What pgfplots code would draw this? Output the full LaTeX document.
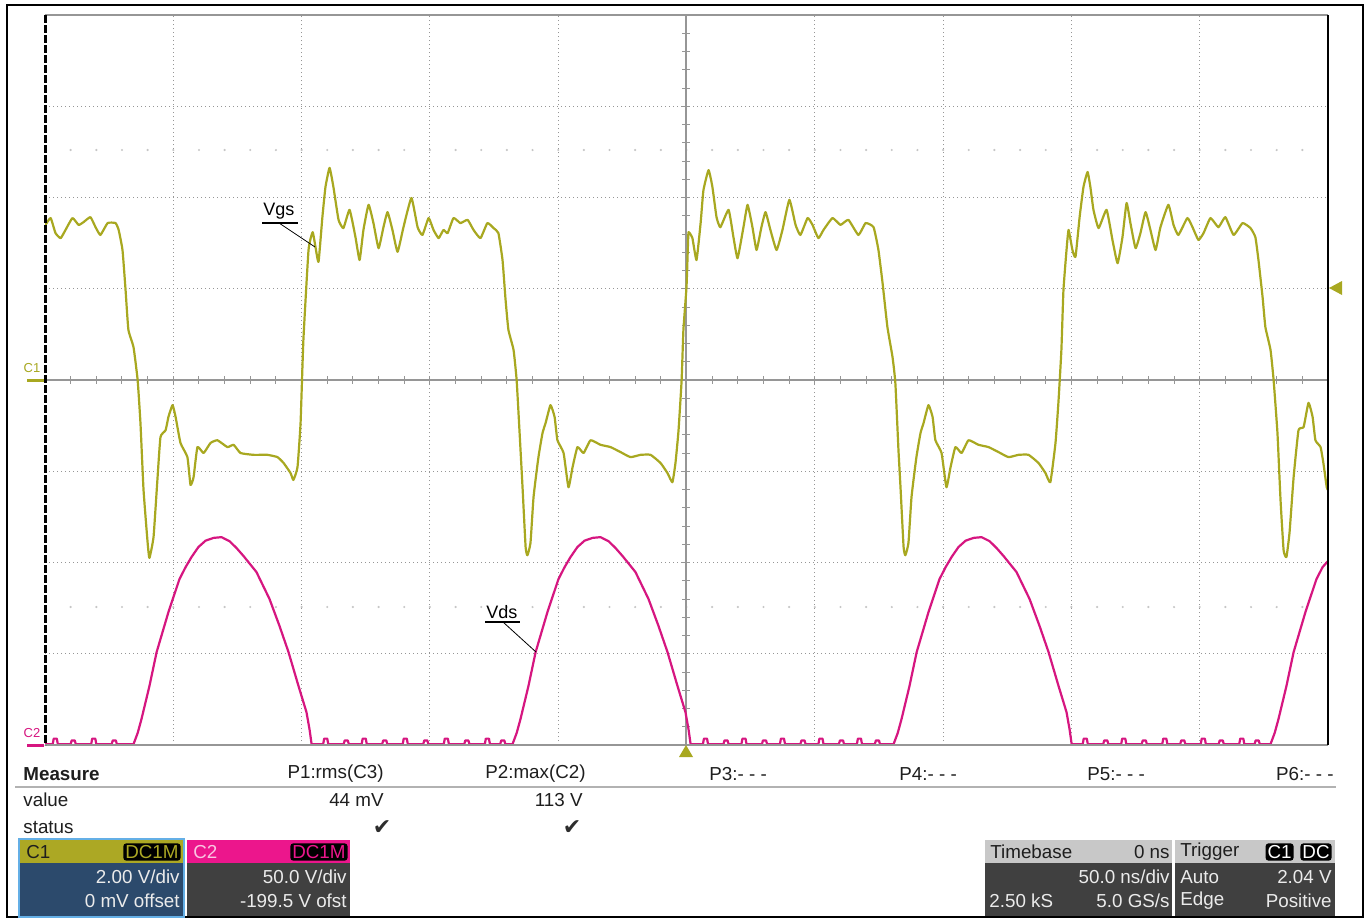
\documentclass[border=0pt]{standalone}
\usepackage{pgfplots}
\pgfplotsset{compat=1.18}
\usepackage{pgfplotstable}
\usepackage{fontspec}
\setmainfont{Liberation Sans}
\newfontfamily\dejavu{DejaVu Sans}
\definecolor{olivetrace}{RGB}{168,168,32}
\definecolor{magtrace}{RGB}{214,22,128}
\definecolor{c1head}{RGB}{172,168,36}
\definecolor{c2head}{RGB}{236,22,140}
\definecolor{c1body}{RGB}{44,74,108}
\definecolor{darkbody}{RGB}{64,64,64}
\definecolor{headgray}{RGB}{200,200,200}
\definecolor{gridgray}{RGB}{150,150,150}
\definecolor{bluebord}{RGB}{100,175,230}
\definecolor{txt}{RGB}{30,30,30}

\pgfplotstableread{
t v
-249.8 3.40
-247.8 3.55
-245.9 3.22
-243.9 3.11
-242.0 3.29
-239.3 3.55
-236.9 3.40
-235.0 3.46
-232.3 3.57
-230.3 3.35
-228.4 3.18
-225.6 3.44
-222.5 3.44
-221.3 3.29
-219.8 2.85
-218.6 1.97
-217.5 1.10
-215.5 0.72
-213.9 0.00
-212.8 -0.94
-211.6 -2.41
-210.0 -3.57
-209.3 -3.90
-207.7 -3.44
-206.2 -2.19
-205.0 -1.25
-203.0 -1.10
-201.9 -0.81
-200.3 -0.55
-199.1 -0.81
-197.2 -1.38
-194.5 -1.69
-193.3 -2.30
-192.1 -2.13
-190.6 -1.47
-188.2 -1.60
-185.5 -1.38
-182.8 -1.32
-178.9 -1.47
-176.5 -1.42
-173.8 -1.60
-168.7 -1.64
-163.3 -1.64
-159.4 -1.69
-157.0 -1.82
-154.3 -2.04
-153.2 -2.19
-151.6 -1.91
-150.4 -0.94
-149.3 0.88
-147.3 2.85
-145.7 3.24
-144.6 2.92
-143.4 2.59
-141.9 3.57
-140.7 4.23
-139.1 4.65
-137.6 4.23
-135.6 3.51
-133.7 3.33
-131.3 3.73
-129.0 3.13
-127.4 2.63
-125.9 3.29
-123.9 3.84
-122.0 3.44
-120.0 2.89
-118.1 3.35
-116.5 3.68
-114.6 3.29
-112.6 2.81
-110.3 3.35
-107.2 3.99
-104.8 3.35
-102.9 3.18
-100.5 3.55
-98.6 3.29
-96.6 3.11
-94.7 3.29
-93.1 3.22
-90.8 3.55
-88.1 3.44
-85.3 3.51
-83.0 3.29
-80.3 3.11
-77.6 3.44
-75.2 3.33
-73.3 3.22
-71.7 2.63
-70.5 1.75
-69.4 1.10
-67.4 0.66
-66.2 0.00
-65.1 -1.10
-63.9 -2.35
-62.7 -3.66
-62.0 -3.84
-60.8 -3.57
-59.6 -2.56
-57.7 -1.69
-56.1 -1.16
-54.9 -0.94
-53.0 -0.55
-51.4 -0.81
-50.3 -1.32
-47.9 -1.60
-46.0 -2.35
-44.4 -1.91
-42.5 -1.47
-40.1 -1.60
-37.4 -1.32
-33.5 -1.42
-29.6 -1.47
-25.7 -1.58
-21.8 -1.69
-17.9 -1.64
-14.0 -1.64
-10.1 -1.82
-7.4 -2.04
-5.5 -2.24
-4.3 -1.82
-3.1 -1.10
-1.9 0.00
-1.2 1.10
0.0 2.04
0.5 2.85
0.8 3.24
2.3 3.11
3.9 2.63
5.5 3.44
6.6 4.16
8.6 4.60
10.1 4.23
11.7 3.57
13.2 3.35
16.4 3.73
18.3 3.13
19.9 2.67
22.2 3.35
23.8 3.84
25.7 3.35
27.3 2.85
29.2 3.35
30.8 3.68
32.7 3.29
35.1 2.85
37.4 3.29
40.1 3.95
42.5 3.40
44.4 3.18
47.2 3.55
49.1 3.40
51.4 3.11
53.4 3.29
56.9 3.55
60.0 3.40
63.1 3.51
67.0 3.18
69.8 3.44
72.9 3.35
74.8 2.85
76.4 2.13
78.3 1.16
80.3 0.50
81.4 -0.07
82.6 -1.53
83.4 -2.35
84.6 -3.66
85.3 -3.84
86.5 -3.57
87.7 -2.56
89.6 -1.69
91.2 -1.16
92.4 -0.94
94.3 -0.55
95.9 -0.81
97.0 -1.32
99.4 -1.60
101.3 -2.35
102.9 -1.91
104.8 -1.47
107.2 -1.60
109.9 -1.32
113.8 -1.42
117.7 -1.47
121.6 -1.58
125.5 -1.69
129.4 -1.64
133.3 -1.64
137.2 -1.82
139.9 -2.04
141.8 -2.24
143.8 -1.38
145.0 -0.44
146.1 0.66
146.9 1.97
148.1 2.85
148.9 3.29
150.4 2.85
151.6 2.70
153.2 3.57
154.7 4.23
156.3 4.56
157.4 4.23
158.6 3.73
160.6 3.33
163.7 3.73
166.0 3.07
168.0 2.56
169.9 3.13
171.5 3.88
173.0 3.44
175.0 2.89
176.9 3.22
178.9 3.68
180.8 3.29
182.8 2.85
184.7 3.35
187.8 3.84
189.8 3.40
191.7 3.18
195.2 3.55
197.2 3.35
199.5 3.07
201.5 3.22
204.2 3.55
207.3 3.35
210.0 3.57
213.2 3.18
216.7 3.44
219.8 3.33
221.7 3.13
222.9 2.63
224.5 1.82
225.6 1.16
227.6 0.66
228.8 0.00
230.3 -1.16
231.5 -2.63
232.7 -3.73
233.8 -3.88
235.0 -3.35
236.6 -2.13
238.5 -1.10
240.5 -1.03
242.4 -0.50
244.0 -0.81
245.1 -1.32
247.1 -1.47
248.2 -1.82
249.5 -2.35
250.0 -2.41
}\vgs

\pgfplotstableread{
t v
-250.0 0
-247.0 0
-246.6 3
-245.4 3
-245.0 0
-240.0 0
-239.6 2
-238.4 2
-238.0 0
-232.0 0
-231.6 3
-230.4 3
-230.0 0
-224.0 0
-223.6 2
-222.4 2
-222.0 0
-215.5 0
-213.9 6
-212.4 13.7
-209.3 31.8
-206.5 50.4
-201.9 72.3
-197.6 90.4
-195.2 97
-192.9 102.5
-190.2 108
-187.4 111.5
-184.3 113
-181.2 113.4
-178.1 111.2
-175.4 107.5
-172.6 103.0
-167.6 94.3
-162.5 79.5
-158.6 64.7
-155.1 50.4
-151.2 31.8
-148.1 17.5
-146.9 8
-146.1 0
-141.6 0
-141.2 3
-140.0 3
-139.6 0
-133.6 0
-133.2 2
-132.0 2
-131.6 0
-126.6 0
-126.2 3
-125.0 3
-124.6 0
-118.6 0
-118.2 2
-117.0 2
-116.6 0
-110.6 0
-110.2 3
-109.0 3
-108.6 0
-102.6 0
-102.2 2
-101.0 2
-100.6 0
-94.6 0
-94.2 3
-93.0 3
-92.6 0
-86.6 0
-86.2 2
-85.0 2
-84.6 0
-78.6 0
-78.2 3
-77.0 3
-76.6 0
-72.6 0
-72.2 2
-71.0 2
-70.6 0
-67.8 0
-66.2 6
-64.7 13.7
-61.6 31.8
-58.8 50.4
-54.2 72.3
-49.9 90.4
-47.5 97
-45.2 102.5
-42.5 108
-39.7 111.5
-36.6 113
-33.5 113.4
-30.4 111.2
-27.7 107.5
-24.9 103.0
-19.9 94.3
-14.8 79.5
-10.9 64.7
-7.4 50.4
-3.5 31.8
-0.4 17.5
0.8 8
1.6 0
6.4 0
6.8 3
8.0 3
8.4 0
14.4 0
14.8 2
16.0 2
16.4 0
21.4 0
21.8 3
23.0 3
23.4 0
29.4 0
29.8 2
31.0 2
31.4 0
36.4 0
36.8 3
38.0 3
38.4 0
44.4 0
44.8 2
46.0 2
46.4 0
51.4 0
51.8 3
53.0 3
53.4 0
59.4 0
59.8 2
61.0 2
61.4 0
66.4 0
66.8 3
68.0 3
68.4 0
73.4 0
73.8 2
75.0 2
75.4 0
80.7 0
82.3 6
83.8 13.7
86.9 31.8
89.7 50.4
94.3 72.3
98.6 90.4
101.0 97
103.3 102.5
106.0 108
108.8 111.5
111.9 113
115.0 113.4
118.1 111.2
120.8 107.5
123.6 103.0
128.6 94.3
133.7 79.5
137.6 64.7
141.1 50.4
145.0 31.8
148.1 17.5
149.3 8
150.1 0
154.4 0
154.8 3
156.0 3
156.4 0
162.4 0
162.8 2
164.0 2
164.4 0
169.4 0
169.8 3
171.0 3
171.4 0
177.4 0
177.8 2
179.0 2
179.4 0
185.4 0
185.8 3
187.0 3
187.4 0
192.4 0
192.8 2
194.0 2
194.4 0
200.4 0
200.8 3
202.0 3
202.4 0
207.4 0
207.8 2
209.0 2
209.4 0
215.4 0
215.8 3
217.0 3
217.4 0
221.4 0
221.8 2
223.0 2
223.4 0
227.6 0
229.2 6
230.7 13.7
233.8 31.8
236.6 50.4
241.2 72.3
245.5 90.4
247.9 97
250.0 100.3
}\vds

\newcommand{\fs}{\fontsize{9.4}{10}\selectfont}

\begin{document}
\begin{tikzpicture}
\begin{scope}[x=0.5pt,y=-0.5pt]
\useasboundingbox (0,0) rectangle (1370,922);
\fill[white] (0,0) rectangle (1370,922);
% minor dot rows
\foreach \k in {1,...,49} {
  \fill[gray!45] ({45+\k*25.66},150) circle[radius=0.6pt];
  \fill[gray!45] ({45+\k*25.66},607) circle[radius=0.6pt];
}
% center lines with ticks
\draw[gridgray, line width=0.6pt] (45,380) -- (1328,380);
\draw[gridgray, line width=0.6pt] (686,15) -- (686,745);
\foreach \k in {1,...,49} {
  \draw[gridgray, line width=0.5pt] ({45+\k*25.66},376) -- ({45+\k*25.66},384);
}
\foreach \k in {1,...,39} {
  \draw[gridgray, line width=0.5pt] (682,{15+\k*18.25}) -- (690,{15+\k*18.25});
}
\end{scope}

\begin{axis}[at={(22.5pt,-372.5pt)}, anchor=south west, scale only axis,
  width=641.5pt, height=365pt,
  xmin=-250, xmax=250, ymin=-4, ymax=4,
  xtick={-200,-150,-100,-50,50,100,150,200},
  ytick={-3,-2,-1,1,2,3},
  xticklabels={}, yticklabels={},
  major tick length=0pt,
  grid=major,
  major grid style={gridgray, line width=0.5pt, dash pattern=on 0.5pt off 1.5pt},
  axis line style={draw=none},
  clip=true]
\addplot[olivetrace, line width=1.1pt, line join=round, smooth, tension=0.25] table[x=t, y expr=\thisrow{v}/2] {\vgs};
\addplot[magtrace, line width=1.1pt, line join=round] table[x=t, y expr=\thisrow{v}/50-3.99] {\vds};
\end{axis}

\begin{scope}[x=0.5pt,y=-0.5pt]
% plot borders
\draw[gridgray, line width=0.6pt] (45,15) -- (1328,15);
\draw[gridgray, line width=0.6pt] (45,745) -- (1328,745);
\draw[black, line width=1.5pt, dash pattern=on 4pt off 1pt] (45,15) -- (45,745);
\draw[black, line width=1pt] (1328,15) -- (1328,745);
% outer frame
\draw[black, line width=1pt] (7,5) rectangle (1363,917);
% channel markers
\draw[olivetrace, line width=1.5pt] (27,380) -- (44,380);
\node[text=olivetrace, inner sep=0pt] at (32,368) {\fontsize{6.5}{7}\selectfont C1};
\draw[magtrace, line width=1.5pt] (27,745) -- (44,745);
\node[text=magtrace, inner sep=0pt] at (32,733) {\fontsize{6.5}{7}\selectfont C2};
% trigger markers
\fill[olivetrace] (1329,288) -- (1342,281) -- (1342,295) -- cycle;
\fill[olivetrace] (686,745) -- (679,757) -- (693,757) -- cycle;
% labels
\node[inner sep=0pt, anchor=south west] at (263,220) {\fontsize{9}{10}\selectfont Vgs};
\draw[black, line width=0.6pt] (262,223) -- (298,223);
\draw[black, line width=0.4pt] (279,223) -- (315,247);
\node[inner sep=0pt, anchor=south west] at (486,619) {\fontsize{9}{10}\selectfont Vds};
\draw[black, line width=0.6pt] (485,622) -- (520,622);
\draw[black, line width=0.4pt] (503,622) -- (536,652);
% measure panel
\node[anchor=west, inner sep=0pt, text=txt] at (23,774) {\fs\bfseries Measure};
\node[anchor=east, inner sep=0pt, text=txt] at (384,774) {\fs P1:rms(C3)};
\node[anchor=east, inner sep=0pt, text=txt] at (586,774) {\fs P2:max(C2)};
\node[anchor=west, inner sep=0pt, text=txt] at (709,774) {\fs P3:- - -};
\node[anchor=west, inner sep=0pt, text=txt] at (899,774) {\fs P4:- - -};
\node[anchor=west, inner sep=0pt, text=txt] at (1087,774) {\fs P5:- - -};
\node[anchor=east, inner sep=0pt, text=txt] at (1334,774) {\fs P6:- - -};
\draw[gray!60, line width=1pt] (15,787) -- (1336,787);
\node[anchor=west, inner sep=0pt, text=txt] at (23,800) {\fs value};
\node[anchor=east, inner sep=0pt, text=txt] at (384,800) {\fs 44 mV};
\node[anchor=east, inner sep=0pt, text=txt] at (583,800) {\fs 113 V};
\node[anchor=west, inner sep=0pt, text=txt] at (23,827) {\fs status};
\node[inner sep=0pt, text=gray!35!black] at (382,828) {\dejavu\fontsize{11}{12}\selectfont ✔};
\node[inner sep=0pt, text=gray!35!black] at (572,828) {\dejavu\fontsize{11}{12}\selectfont ✔};
% C1 box
\fill[bluebord] (18,838) rectangle (185,918);
\fill[c1head] (20,840) rectangle (183,863);
\fill[c1body] (20,863) rectangle (183,916);
\node[anchor=west, inner sep=0pt, text=txt] at (26,852) {\fs C1};
\node[anchor=east, fill=black, rounded corners=1.5pt, inner sep=1pt, text=c1head] at (181,852) {\fs DC1M};
\node[anchor=east, inner sep=0pt, text=white!92!black] at (180,877) {\fs 2.00 V/div};
\node[anchor=east, inner sep=0pt, text=white!92!black] at (180,901) {\fs 0 mV offset};
% C2 box
\fill[c2head] (187,840) rectangle (350,863);
\fill[darkbody] (187,863) rectangle (350,916);
\node[anchor=west, inner sep=0pt, text=white!75!c2head] at (193,852) {\fs C2};
\node[anchor=east, fill=black, rounded corners=1.5pt, inner sep=1pt, text=c2head] at (348,852) {\fs DC1M};
\node[anchor=east, inner sep=0pt, text=white!92!black] at (347,877) {\fs 50.0 V/div};
\node[anchor=east, inner sep=0pt, text=white!92!black] at (347,901) {\fs -199.5 V ofst};
% Timebase box
\fill[headgray] (985,840) rectangle (1172,863);
\fill[darkbody] (985,863) rectangle (1172,916);
\node[anchor=west, inner sep=0pt, text=txt] at (990,852) {\fs Timebase};
\node[anchor=east, inner sep=0pt, text=txt] at (1170,852) {\fs 0 ns};
\node[anchor=east, inner sep=0pt, text=white!92!black] at (1170,877) {\fs 50.0 ns/div};
\node[anchor=west, inner sep=0pt, text=white!92!black] at (989,901) {\fs 2.50 kS};
\node[anchor=east, inner sep=0pt, text=white!92!black] at (1170,901) {\fs 5.0 GS/s};
% Trigger box
\fill[headgray] (1175,840) rectangle (1335,863);
\fill[darkbody] (1175,863) rectangle (1335,916);
\node[anchor=west, inner sep=0pt, text=txt] at (1180,852) {\fs Trigger};
\node[anchor=east, fill=black, rounded corners=1.5pt, inner sep=1pt, text=white] at (1294,852) {\fs C1};
\node[anchor=east, fill=black, rounded corners=1.5pt, inner sep=1pt, text=white] at (1332,852) {\fs DC};
\node[anchor=west, inner sep=0pt, text=white!92!black] at (1180,877) {\fs Auto};
\node[anchor=east, inner sep=0pt, text=white!92!black] at (1332,877) {\fs 2.04 V};
\node[anchor=west, inner sep=0pt, text=white!92!black] at (1180,901) {\fs Edge};
\node[anchor=east, inner sep=0pt, text=white!92!black] at (1332,901) {\fs Positive};
\end{scope}
\end{tikzpicture}
\end{document}
